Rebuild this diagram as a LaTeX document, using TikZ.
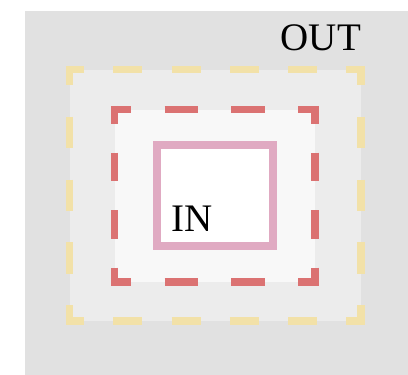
\documentclass[tikz,border=0pt]{standalone}
\usepackage{fontspec}
\setmainfont{Liberation Serif}
\usepackage{tikz}
\definecolor{bgout}{HTML}{E1E1E1}
\definecolor{bgmid}{HTML}{ECECEC}
\definecolor{bgin}{HTML}{F8F8F8}
\definecolor{goldline}{HTML}{F2E1A8}
\definecolor{redline}{HTML}{DB7272}
\definecolor{pinkline}{HTML}{E0AAC2}

\begin{document}
\begin{tikzpicture}[x=1pt,y=-1pt,
  every node/.style={font=\fontsize{39}{46}\selectfont,inner sep=0pt,anchor=base west},
  goldh/.style={draw=goldline,line width=7.5pt,dash pattern=on 29.15pt off 29.15pt,dash phase=10.85pt},
  goldv/.style={draw=goldline,line width=7.5pt,dash pattern=on 31.44pt off 31.44pt,dash phase=11.97pt},
  redh/.style={draw=redline,line width=7.5pt,dash pattern=on 33.42pt off 33.42pt,dash phase=12.96pt},
  redv/.style={draw=redline,line width=7.5pt,dash pattern=on 28.75pt off 28.75pt,dash phase=10.63pt}]
\useasboundingbox (0,0) rectangle (408,375);
\fill[bgout] (25,11) rectangle (408,375);
% middle box
\fill[bgmid] (69.5,69.5) rectangle (361,321);
\draw[goldh] (65.75,69.5)--(364.75,69.5) (65.75,321)--(364.75,321);
\draw[goldv] (69.5,65.75)--(69.5,324.75) (361,65.75)--(361,324.75);
% inner box
\fill[bgin] (114.5,109.5) rectangle (315,282);
\draw[redh] (110.75,109.5)--(318.75,109.5) (110.75,282)--(318.75,282);
\draw[redv] (114.5,105.75)--(114.5,285.75) (315,105.75)--(315,285.75);
\draw[pinkline,fill=white,line width=8pt] (156.7,145.3) rectangle (273,245.5);
\node (outtxt) at (280.5,50) {OUT};
\node (intxt) at (171,231.7) {IN};
\end{tikzpicture}
\end{document}
